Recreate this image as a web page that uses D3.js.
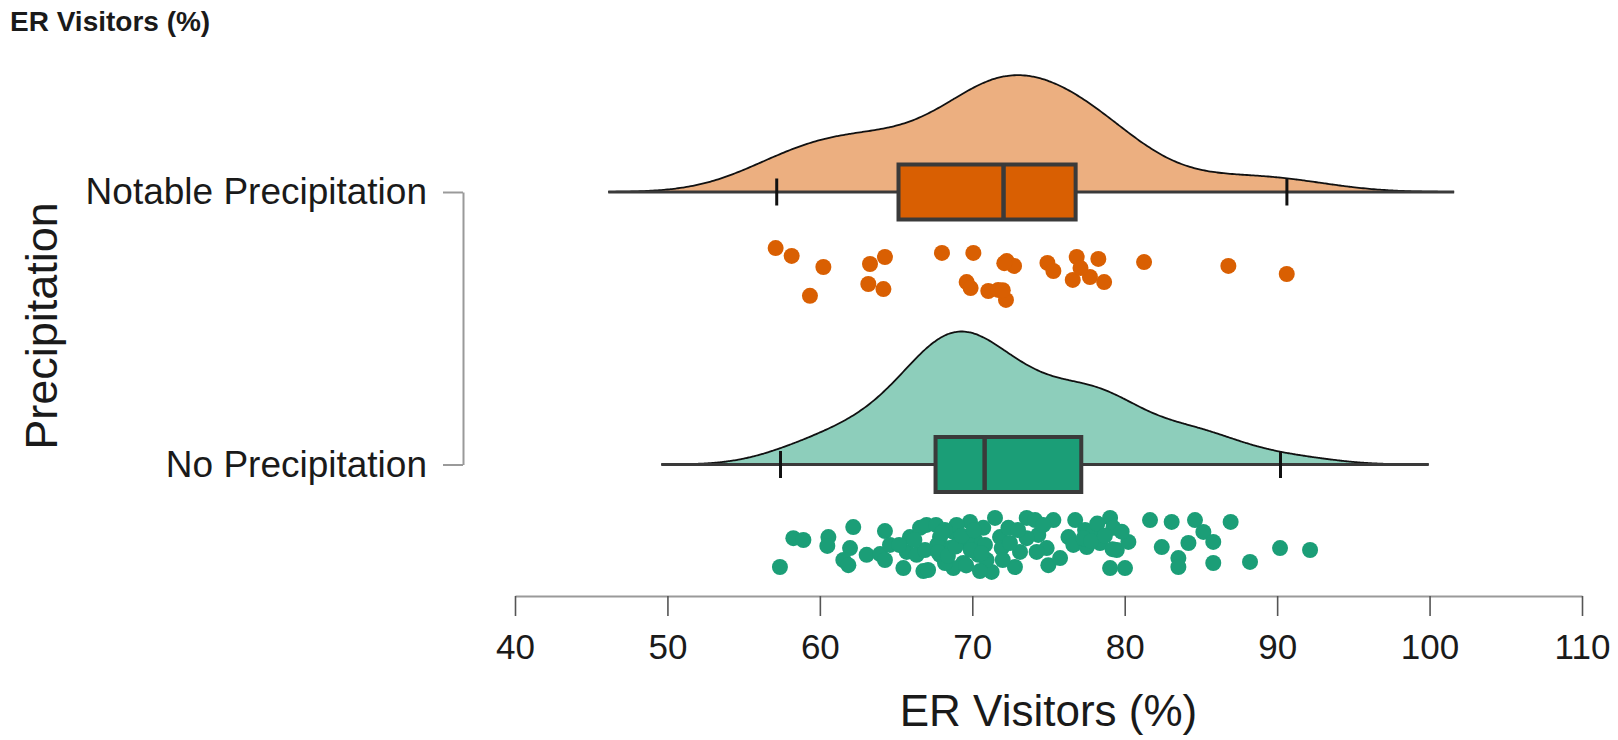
<!DOCTYPE html>
<html>
<head>
<meta charset="utf-8">
<script src="https://cdn.jsdelivr.net/npm/d3@7"></script>
<style>
  body { margin: 0; background: #ffffff; }
  text { font-family: Arial, "Liberation Sans", sans-serif; fill: #1a1a1a; }
</style>
</head>
<body>
<svg id="chart" width="1618" height="740"></svg>
<script>
// Groups, top to bottom
const categories = ["Notable Precipitation", "No Precipitation"];

// ER visitors (%) per day, with the vertical jitter (-1..1) of each raindrop
const notableValues = [57.10, 58.15, 60.23, 59.35, 63.29, 64.27, 63.18, 64.17, 68.01, 70.07,
  72.26, 72.74, 69.63, 69.89, 71.05, 71.70, 72.21, 74.93, 75.32, 76.85,
  78.27, 76.59, 77.72, 78.65, 77.10, 81.27, 86.80, 90.63, 72.00, 72.10];
const notableJitter = [-0.96, -0.67, -0.26, 0.81, -0.37, -0.63, 0.37, 0.56, -0.78, -0.78,
  -0.48, -0.30, 0.30, 0.52, 0.63, 0.59, 0.96, -0.41, -0.11, -0.63,
  -0.56, 0.22, 0.11, 0.30, -0.22, -0.44, -0.30, 0.00, 0.60, -0.40];

const noneValues = [57.38, 58.26, 58.92, 60.56, 60.49, 62.19, 61.98, 61.54, 61.87, 63.07,
  63.95, 64.27, 64.60, 64.27, 65.48, 65.70, 65.91, 66.57, 67.00, 66.79,
  66.35, 66.90, 67.10, 67.88, 68.54, 68.76, 69.41, 69.85, 70.18, 70.40,
  71.27, 71.49, 71.82, 71.93, 72.37, 72.80, 73.13, 73.57, 74.12, 74.33,
  74.88, 75.32, 74.99, 75.76, 76.31, 76.75, 76.63, 77.40, 77.51, 77.95,
  78.38, 79.04, 79.26, 79.48, 80.24, 79.04, 80.02, 81.66, 82.43, 83.08,
  83.52, 83.52, 84.18, 84.61, 85.16, 85.81, 85.81, 86.95, 88.22, 90.19,
  92.16, 67.62, 67.88, 68.97, 69.19, 68.76, 69.63, 70.72, 70.83, 70.94,
  70.50, 67.70, 68.21, 72.47, 73.57, 74.66, 74.22, 65.20, 66.20, 69.90,
  72.00, 73.00, 68.20, 67.75, 68.00, 68.40, 68.90, 69.30, 69.60, 70.10,
  70.60, 77.30, 77.80, 78.20, 78.70, 79.20, 79.80];
const noneJitter = [0.76, -0.31, -0.24, -0.35, -0.02, -0.72, 0.06, 0.50, 0.69, 0.31,
  0.28, -0.57, -0.06, 0.50, 0.80, 0.20, -0.35, -0.69, -0.80, 0.91,
  0.31, 0.13, 0.87, -0.35, 0.06, -0.54, 0.61, -0.91, -0.24, 0.31,
  0.94, -1.06, -0.35, 0.06, -0.69, 0.76, 0.20, -1.06, -0.98, -0.43,
  0.06, -0.98, 0.69, 0.43, -0.35, -0.98, -0.06, -0.61, 0.02, -0.54,
  -0.13, -1.06, -0.69, 0.13, -0.17, 0.80, 0.80, -0.98, 0.02, -0.91,
  0.43, 0.76, -0.13, -0.98, -0.54, -0.17, 0.61, -0.91, 0.57, 0.06,
  0.13, -0.80, 0.31, -0.80, -0.17, 0.80, -0.31, -0.69, -0.06, 0.50,
  0.91, -0.06, 0.61, -0.13, -0.31, -0.80, 0.20, -0.06, -0.24, 0.13,
  0.50, -0.61, -0.61, 0.20, -0.50, 0.35, 0.00, -0.40, 0.70, -0.60,
  0.25, -0.30, -0.20, -0.85, -0.40, 0.10, -0.55];

// Box-plot summaries per group (same order as categories)
const boxQ1 = [65.16, 67.59];
const boxMedian = [72.05, 70.81];
const boxQ3 = [76.78, 77.15];
const whiskerLow = [57.17, 57.42];
const whiskerHigh = [90.64, 90.22];

const xTicks = [40, 50, 60, 70, 80, 90, 100, 110];
const groupColors = ["#D95F02", "#1B9E77"];
const cloudColors = ["#ECAF80", "#8DCEBB"];

const groups = categories.map((name, i) => ({
  name,
  values: i === 0 ? notableValues : noneValues,
  jitter: i === 0 ? notableJitter : noneJitter,
  q1: boxQ1[i], median: boxMedian[i], q3: boxQ3[i],
  lo: whiskerLow[i], hi: whiskerHigh[i],
  color: groupColors[i], cloud: cloudColors[i]
}));

const svg = d3.select("#chart");

const x = d3.scaleLinear().domain([40, 110]).range([515, 1582]);
const y = d3.scalePoint().domain(categories).range([192, 464.5]);
const jitterY = d3.scaleLinear().domain([-1, 1]).range([-27, 27]);
const rainOffset = 82;

// Gaussian kernel density with R's default (nrd0) bandwidth, cut = 3
function nrd0(v) {
  const s = d3.sort(v);
  const sd = d3.deviation(s);
  const iqr = d3.quantileSorted(s, 0.75) - d3.quantileSorted(s, 0.25);
  const lo = Math.min(sd, iqr / 1.34);
  return 0.9 * lo * Math.pow(s.length, -0.2);
}
function kde(v) {
  const bw = nrd0(v);
  const lo = d3.min(v) - 3 * bw, hi = d3.max(v) + 3 * bw;
  const n = 400;
  const pts = [];
  for (let k = 0; k <= n; k++) {
    const t = lo + (hi - lo) * k / n;
    let s = 0;
    for (const xi of v) {
      const u = (t - xi) / bw;
      s += Math.exp(-0.5 * u * u);
    }
    pts.push([t, s / (v.length * bw * Math.sqrt(2 * Math.PI))]);
  }
  return pts;
}
groups.forEach(g => { g.density = kde(g.values); });
const maxDens = d3.max(groups, g => d3.max(g.density, d => d[1]));
const h = d3.scaleLinear().domain([0, maxDens]).range([0, 133]);

// Title
svg.append("text").attr("x", 10).attr("y", 31)
  .style("font-weight", "bold").style("font-size", "28px")
  .text("ER Visitors (%)");

// X axis
const xAxis = svg.append("g").attr("transform", "translate(0,596)")
  .call(d3.axisBottom(x).tickValues(xTicks).tickSize(20).tickSizeOuter(0).tickPadding(18));
xAxis.select(".domain").attr("stroke", "#9a9a9a").attr("stroke-width", 2);
xAxis.selectAll(".tick line").attr("stroke", "#555").attr("stroke-width", 1.6);
xAxis.selectAll(".tick text").style("font-size", "35px").attr("fill", "#1a1a1a");

svg.append("text").attr("x", (x(40) + x(110)) / 2).attr("y", 726)
  .attr("text-anchor", "middle").style("font-size", "44px")
  .text("ER Visitors (%)");

// Y axis (bracket style)
const yAxis = svg.append("g").attr("transform", "translate(463,0)")
  .call(d3.axisLeft(y).tickSize(20).tickSizeOuter(0).tickPadding(16));
yAxis.select(".domain").attr("stroke", "#9a9a9a").attr("stroke-width", 2);
yAxis.selectAll(".tick line").attr("stroke", "#9a9a9a").attr("stroke-width", 2);
yAxis.selectAll(".tick text").style("font-size", "37px").attr("fill", "#1a1a1a");

svg.append("text")
  .attr("transform", "translate(57,326) rotate(-90)")
  .attr("text-anchor", "middle").style("font-size", "45px")
  .text("Precipitation");

// Clouds, boxes and rain
groups.forEach(g => {
  const base = y(g.name);
  const layer = svg.append("g");

  const area = d3.area().x(d => x(d[0])).y0(base).y1(d => base - h(d[1])).curve(d3.curveBasis);
  layer.append("path").datum(g.density).attr("d", area)
    .attr("fill", g.cloud).attr("stroke", "none");
  const top = d3.line().x(d => x(d[0])).y(d => base - h(d[1])).curve(d3.curveBasis);
  layer.append("path").datum(g.density).attr("d", top)
    .attr("fill", "none").attr("stroke", "#111").attr("stroke-width", 1.8);

  // baseline across the cloud plus whiskers
  const ext = d3.extent(g.density, d => d[0]);
  layer.append("line").attr("x1", x(ext[0])).attr("x2", x(ext[1]))
    .attr("y1", base).attr("y2", base).attr("stroke", "#3a3a3a").attr("stroke-width", 3);
  [g.lo, g.hi].forEach(v => {
    layer.append("line").attr("x1", x(v)).attr("x2", x(v))
      .attr("y1", base - 13.5).attr("y2", base + 13.5)
      .attr("stroke", "#111").attr("stroke-width", 3);
  });

  layer.append("rect").attr("x", x(g.q1)).attr("y", base - 27.5)
    .attr("width", x(g.q3) - x(g.q1)).attr("height", 55)
    .attr("fill", g.color).attr("stroke", "#3a3a3a").attr("stroke-width", 4);
  layer.append("line").attr("x1", x(g.median)).attr("x2", x(g.median))
    .attr("y1", base - 27.5).attr("y2", base + 27.5)
    .attr("stroke", "#3a3a3a").attr("stroke-width", 4.5);

  layer.selectAll("circle.drop").data(g.values.map((v, i) => [v, g.jitter[i]]))
    .join("circle").attr("class", "drop")
    .attr("cx", d => x(d[0]))
    .attr("cy", d => base + rainOffset + jitterY(d[1]))
    .attr("r", 8).attr("fill", g.color);
});
</script>
</body>
</html>
